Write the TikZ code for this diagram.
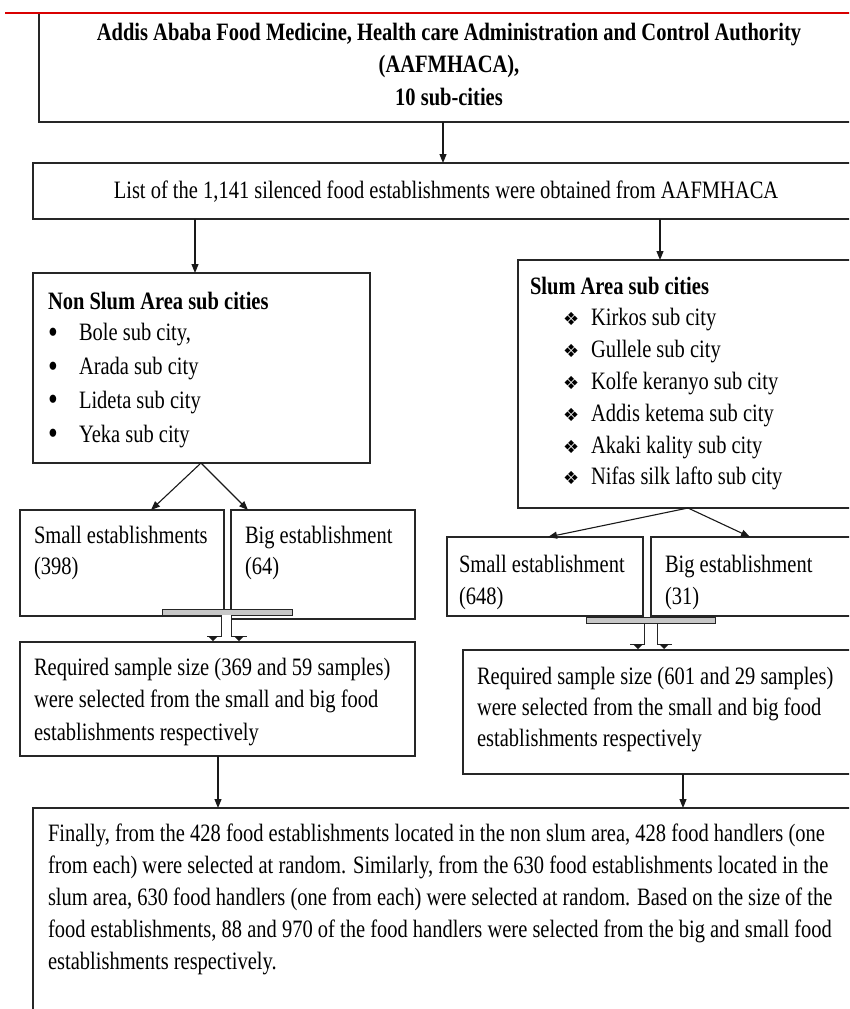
\documentclass[tikz,border=0pt]{standalone}
\usepackage{fontspec}
\setmainfont{Liberation Serif}[FakeStretch=0.82]
\newfontfamily\symfont{DejaVu Sans}
\usetikzlibrary{arrows.meta}
\newcommand{\blt}{\makebox[31pt][l]{\raisebox{-2.5pt}{\fontsize{34}{34}\selectfont •}}}
\newcommand{\dmd}{\makebox[28pt][l]{\symfont\fontsize{18}{18}\selectfont ❖}}
\begin{document}
\begin{tikzpicture}[x=1pt,y=-1pt,
  box/.style={draw=black!85, line width=1.3pt, inner sep=0pt, outer sep=0pt, anchor=north west},
  txt/.style={inner sep=0pt, outer sep=0pt, font=\fontsize{25}{32}\selectfont, align=left, anchor=north west},
  arr/.style={draw=black!90, line width=1.1pt, -{Triangle[length=9pt,width=7pt]}},
  bar/.style={draw=black!85, line width=1pt, fill=black!22},
  stem/.style={draw=black!85, line width=1pt},
  tip/.style={fill=black!90}
]
\useasboundingbox (0,0) rectangle (849,1009);
\begin{scope}
\clip (0,0) rectangle (849,1009);
% boxes
\node[box, minimum width=821pt, minimum height=109pt] (top) at (39,13) {};
\node[box, minimum width=827pt, minimum height=56pt] (list) at (33,163) {};
\node[box, minimum width=337pt, minimum height=190pt] (nonslum) at (33,273) {};
\node[box, minimum width=342pt, minimum height=248pt] (slum) at (518,260) {};
\node[box, minimum width=204pt, minimum height=106pt] (small1) at (20,510) {};
\node[box, minimum width=184pt, minimum height=109pt] (big1) at (231,510) {};
\node[box, minimum width=395pt, minimum height=114pt] (req1) at (20,642) {};
\node[box, minimum width=196pt, minimum height=79pt] (small2) at (447,537) {};
\node[box, minimum width=209pt, minimum height=79pt] (big2) at (651,537) {};
\node[box, minimum width=397pt, minimum height=124pt] (req2) at (463,650) {};
\node[box, minimum width=827pt, minimum height=230pt] (final) at (33,808) {};
% red rule
\draw[red!85!black, line width=2.5pt] (5,13) -- (849,13);
% texts
\node[txt, anchor=north, align=center, font=\fontsize{25}{32.5}\selectfont\bfseries] (ttop) at (449,17.6)
  {\strut Addis Ababa Food Medicine, Health care Administration and Control Authority\\(AAFMHACA),\\10 sub-cities};
\node[txt, anchor=base] (tlist) at (446,198) {List of the 1,141 silenced food establishments were obtained from AAFMHACA};
\node[txt, anchor=base west, font=\fontsize{25}{32}\selectfont\bfseries] (tnsh) at (48,309) {Non Slum Area sub cities};
\node[txt, font=\fontsize{25}{33.7}\selectfont] (tnsl) at (48,317.4)
  {\strut\blt Bole sub city,\\\blt Arada sub city\\\blt Lideta sub city\\\blt Yeka sub city};
\node[txt, anchor=base west, font=\fontsize{25}{32}\selectfont\bfseries] (tsh) at (530,294) {Slum Area sub cities};
\node[txt, font=\fontsize{25}{31.8}\selectfont] (tsl) at (563,303.7)
  {\strut\dmd Kirkos sub city\\
   \dmd Gullele sub city\\
   \dmd Kolfe keranyo sub city\\
   \dmd Addis ketema sub city\\
   \dmd Akaki kality sub city\\
   \dmd Nifas silk lafto sub city};
\node[txt, font=\fontsize{25}{31}\selectfont] (ts1) at (34,521.6) {\strut Small establishments\\(398)};
\node[txt, font=\fontsize{25}{31}\selectfont] (tb1) at (245,521.6) {\strut Big establishment\\(64)};
\node[txt, font=\fontsize{25}{32}\selectfont] (ts2) at (459,549.6) {\strut Small establishment\\(648)};
\node[txt, font=\fontsize{25}{32}\selectfont] (tb2) at (665,549.6) {\strut Big establishment\\(31)};
\node[txt, font=\fontsize{25}{32.5}\selectfont] (tr1) at (34,652.6)
  {\strut Required sample size (369 and 59 samples)\\were selected from the small and big food\\establishments respectively};
\node[txt, font=\fontsize{25}{31}\selectfont] (tr2) at (477,662.6)
  {\strut Required sample size (601 and 29 samples)\\were selected from the small and big food\\establishments respectively};
\node[txt, font=\fontsize{25}{31.8}\selectfont] (tfin) at (48,819.6)
  {\strut Finally, from the 428 food establishments located in the non slum area, 428 food handlers (one\\
   from each) were selected at random. Similarly, from the 630 food establishments located in the\\
   slum area, 630 food handlers (one from each) were selected at random. Based on the size of the\\
   food establishments, 88 and 970 of the food handlers were selected from the big and small food\\
   establishments respectively.};
% connector x positions
\coordinate (x443) at (443,0);
\coordinate (x195) at (195,0);
\coordinate (x660) at (660,0);
\coordinate (x201) at (201,0);
\coordinate (x151) at (151,0);
\coordinate (x248) at (248,0);
\coordinate (x688) at (688,0);
\coordinate (x548) at (548,0);
\coordinate (x750) at (750,0);
\coordinate (x218) at (218,0);
\coordinate (x683) at (683,0);
\draw[arr] (top.south -| x443) -- (list.north -| x443);
\draw[arr] (list.south -| x195) -- (nonslum.north -| x195);
\draw[arr] (list.south -| x660) -- (slum.north -| x660);
\draw[arr] (nonslum.south -| x201) -- (small1.north -| x151);
\draw[arr] (nonslum.south -| x201) -- (big1.north -| x248);
\draw[arr] (slum.south -| x688) -- (small2.north -| x548);
\draw[arr] (slum.south -| x688) -- (big2.north -| x750);
\draw[arr] (req1.south -| x218) -- (final.north -| x218);
\draw[arr] (req2.south -| x683) -- (final.north -| x683);
% merge connector (left)
\draw[bar] (162,609.5) rectangle (292,615.5);
\fill[white] (222,615) rectangle (231,636);
\draw[stem] (221.5,615.5) -- (221.5,636) -- (207,636);
\draw[stem] (231.5,615.5) -- (231.5,636) -- (247,636);
\fill[tip] (208,636) -- (218,636) -- (213,641) -- cycle;
\fill[tip] (234,636) -- (244,636) -- (239,641) -- cycle;
% merge connector (right)
\draw[bar] (586,617) rectangle (715,623);
\fill[white] (645,623.5) rectangle (656,643.5);
\draw[stem] (644,623) -- (644,644) -- (630,644);
\draw[stem] (657,623) -- (657,644) -- (672,644);
\fill[tip] (633,644) -- (643,644) -- (638,649) -- cycle;
\fill[tip] (659,644) -- (669,644) -- (664,649) -- cycle;
\end{scope}
\end{tikzpicture}
\end{document}
